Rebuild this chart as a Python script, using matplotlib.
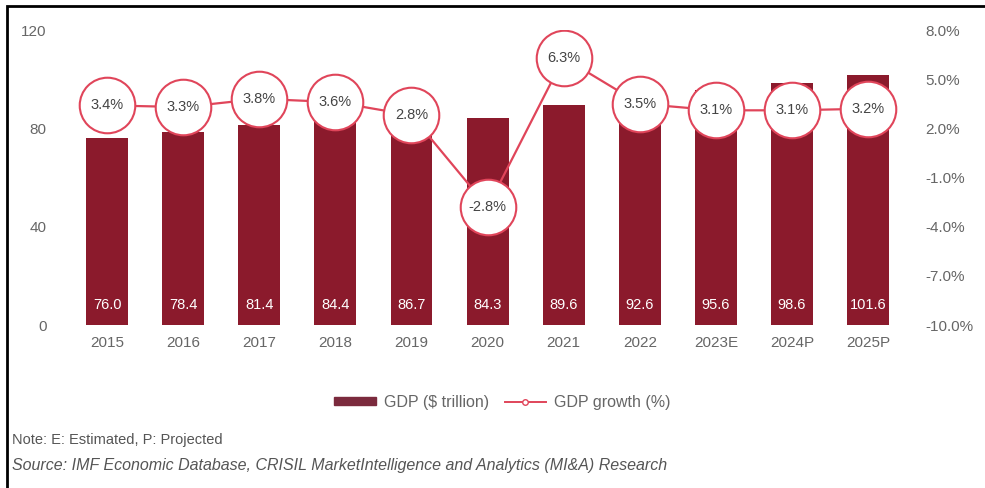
import matplotlib.pyplot as plt
from matplotlib.lines import Line2D
from matplotlib.patches import Patch, Rectangle

plt.rcParams['font.family'] = ['Liberation Sans', 'DejaVu Sans']

years = ['2015', '2016', '2017', '2018', '2019', '2020', '2021', '2022', '2023E', '2024P', '2025P']
gdp = [76.0, 78.4, 81.4, 84.4, 86.7, 84.3, 89.6, 92.6, 95.6, 98.6, 101.6]
growth = [3.4, 3.3, 3.8, 3.6, 2.8, -2.8, 6.3, 3.5, 3.1, 3.1, 3.2]

left_ticks = [0, 40, 80, 120]
right_ticks = [-10, -7, -4, -1, 2, 5, 8]

bar_color = '#8b1a2c'
line_color = '#e0455a'
text_gray = '#666666'

fig = plt.figure(figsize=(9.85, 4.88), dpi=100)
ax = fig.add_axes([0.070, 0.334, 0.850, 0.6045])
ax2 = ax.twinx()

x = list(range(len(years)))
ax.bar(x, gdp, width=0.55, color=bar_color, zorder=2)
for xi, v in zip(x, gdp):
    ax.text(xi, 8, f'{v:.1f}', ha='center', va='center', color='white', fontsize=10.5)

ax.set_xlim(-0.5, len(years) - 0.5)
ax.set_ylim(0, 120)
ax.set_yticks(left_ticks)
ax.set_xticks(x)
ax.set_xticklabels(years)
ax.tick_params(axis='both', length=0, colors=text_gray, labelsize=11)
ax.tick_params(axis='y', pad=16)
ax.tick_params(axis='x', pad=8)

ax2.plot(x, growth, color=line_color, lw=1.6, zorder=3)
ax2.plot(x, growth, 'o', ms=40, mfc='white', mec=line_color, mew=1.5, zorder=4)
for xi, g in zip(x, growth):
    ax2.text(xi, g, f'{g:.1f}%', ha='center', va='center', color='#444444',
             fontsize=10.5, zorder=5)
ax2.set_ylim(-10, 8)
ax2.set_yticks(right_ticks)
ax2.set_yticklabels([f'{t:.1f}%' for t in right_ticks])
ax2.tick_params(axis='y', length=0, colors=text_gray, labelsize=11, pad=14)

for a in (ax, ax2):
    for s in a.spines.values():
        s.set_visible(False)

handles = [Patch(color='#7b2a3d'),
           Line2D([0], [0], color=line_color, lw=1.4, marker='o', ms=4,
                  mfc='white', mec=line_color)]
fig.legend(handles, ['GDP ($ trillion)', 'GDP growth (%)'], loc='center',
           bbox_to_anchor=(0.51, 0.176), ncol=2, frameon=False, fontsize=11.5,
           handlelength=2.6, handleheight=0.45, handletextpad=0.5,
           columnspacing=1.0, labelcolor=text_gray)

fig.text(0.012, 0.098, 'Note: E: Estimated, P: Projected', fontsize=10.5,
         color='#555555', va='center')
fig.text(0.012, 0.046, 'Source: IMF Economic Database, CRISIL MarketIntelligence and '
         'Analytics (MI&A) Research', fontsize=11.5, color='#555555', va='center',
         style='italic')

# outer frame, running off the right and bottom edges
fig.patches.append(Rectangle((0.007, -0.05), 1.1, 1.037, transform=fig.transFigure,
                             fill=False, edgecolor='black', lw=2))

fig.savefig('out.png', dpi=100)
